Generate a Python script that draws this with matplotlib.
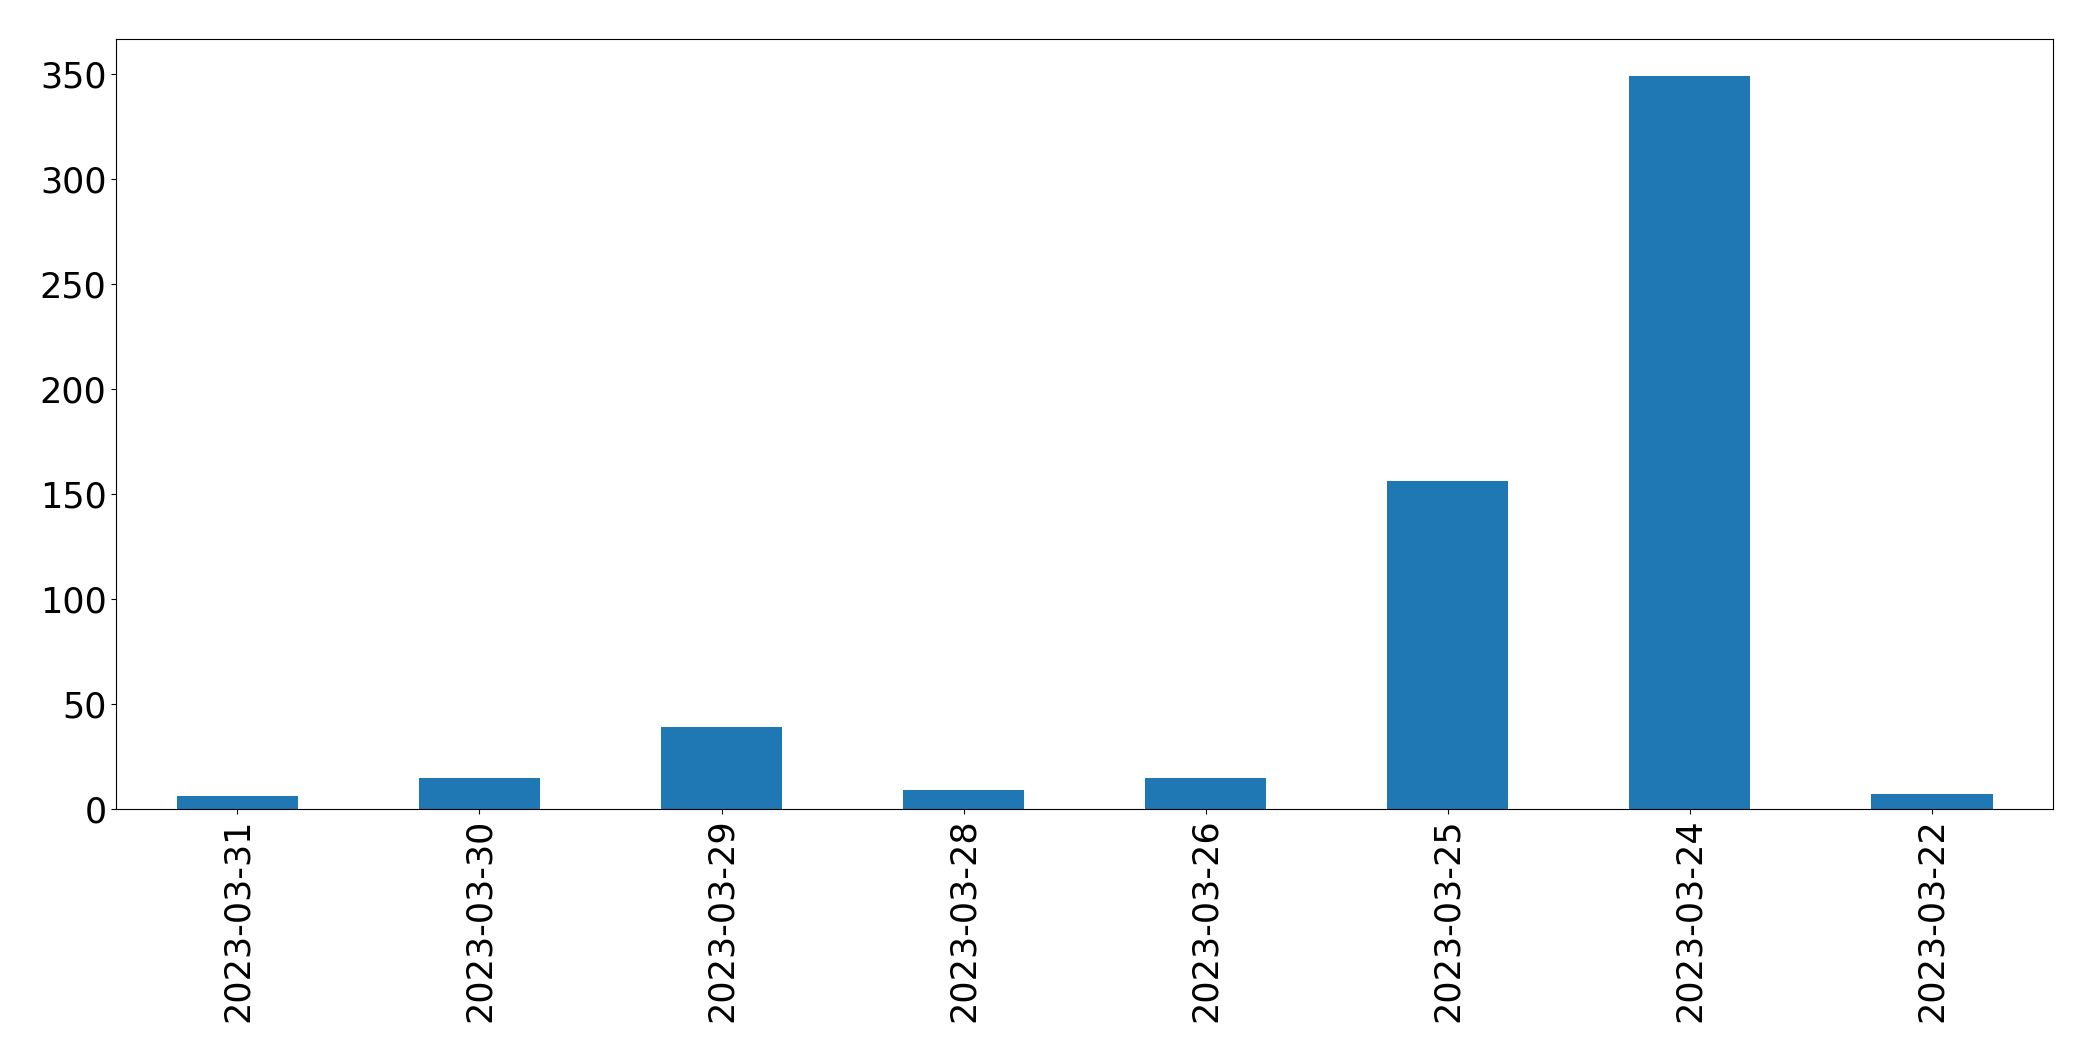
import matplotlib
matplotlib.use("Agg")
import matplotlib.pyplot as plt
import numpy as np

dates = ["2023-03-31", "2023-03-30", "2023-03-29", "2023-03-28",
         "2023-03-26", "2023-03-25", "2023-03-24", "2023-03-22"]
counts = [6, 15, 39, 9, 15, 156, 349, 7]

fig = plt.figure(figsize=(20.93, 10.61), dpi=100)
ax = fig.add_axes([0.0556, 0.2375, 0.9253, 0.7255])
x = np.arange(len(dates))
ax.bar(x, counts, width=0.5, color="#1f77b4")
ax.set_xlim(-0.5, len(dates) - 0.5)
ax.set_xticks(x)
ax.set_xticklabels(dates, rotation=90)
ax.tick_params(axis="both", labelsize=25.2)
fig.savefig("out.png", dpi=100)
